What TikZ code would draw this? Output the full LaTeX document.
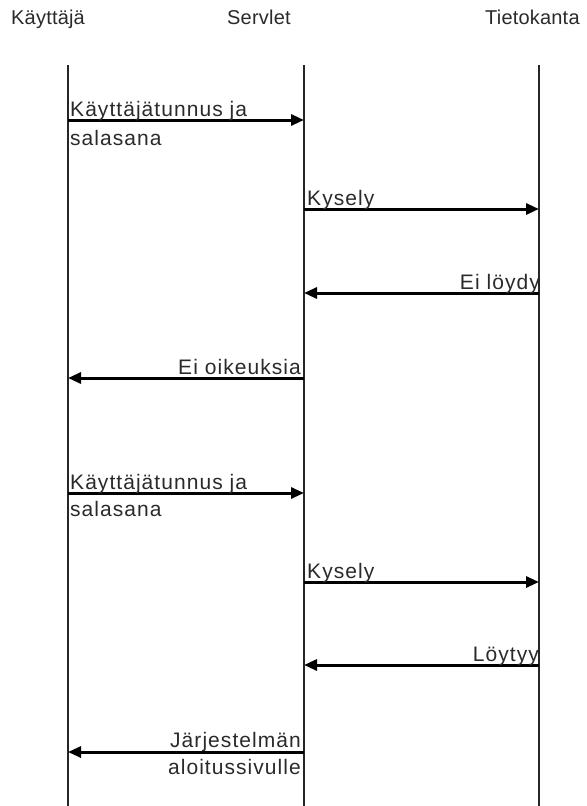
\documentclass[tikz,border=0pt]{standalone}
\usepackage{fontspec}
\setmainfont{Liberation Sans}
\newfontfamily\labelfont[LetterSpace=5]{Liberation Sans}
\newfontfamily\headfont[LetterSpace=1]{Liberation Sans}
\usetikzlibrary{arrows.meta}
\definecolor{ink}{HTML}{2A2A2A}

\tikzset{
  head/.style={anchor=base west, inner sep=0pt, text=ink,
    font=\headfont\fontsize{20bp}{24bp}\selectfont},
  lbl/.style={inner sep=0pt, text=ink,
    font=\labelfont\fontsize{21bp}{25bp}\selectfont},
  lblL/.style={lbl, anchor=base west},
  lblR/.style={lbl, anchor=base east},
  life/.style={draw=black!85, line width=1.2bp},
  msg/.style={draw=black, line width=3bp,
    -{Triangle[length=13bp,width=11bp]}},
}

\begin{document}
\begin{tikzpicture}[x=1bp, y=-1bp]
\useasboundingbox (0,0) rectangle (587,806);

% participants
\node[head] (user) at (11,25) {Käyttäjä};
\node[head] (servlet) at (227,25) {Servlet};
\node[head] (db) at (485,25) {Tietokanta};

% lifelines
\coordinate (uT) at (68,65);  \coordinate (uB) at (68,806);
\coordinate (sT) at (304,65); \coordinate (sB) at (304,806);
\coordinate (dT) at (539,65); \coordinate (dB) at (539,806);
\draw[life] (uT) -- (uB);
\draw[life] (sT) -- (sB);
\draw[life] (dT) -- (dB);

% first attempt: login refused
\coordinate (u1) at (68,120);  \coordinate (s1) at (304,120);
\draw[msg] (u1) -- (s1);
\node[lblL] (l1a) at (70,116) {Käyttäjätunnus ja};
\node[lblL] (l1b) at (70,145) {salasana};

\coordinate (s2) at (304,209); \coordinate (d2) at (539,209);
\draw[msg] (s2) -- (d2);
\node[lblL] (l2) at (307,205) {Kysely};

\coordinate (d3) at (539,293); \coordinate (s3) at (304,293);
\draw[msg] (d3) -- (s3);
\node[lblR] (l3) at (540,289) {Ei löydy};

\coordinate (s4) at (304,378); \coordinate (u4) at (68,378);
\draw[msg] (s4) -- (u4);
\node[lblR] (l4) at (301,374) {Ei oikeuksia};

% second attempt: login accepted
\coordinate (u5) at (68,493);  \coordinate (s5) at (304,493);
\draw[msg] (u5) -- (s5);
\node[lblL] (l5a) at (70,489) {Käyttäjätunnus ja};
\node[lblL] (l5b) at (70,516) {salasana};

\coordinate (s6) at (304,582); \coordinate (d6) at (539,582);
\draw[msg] (s6) -- (d6);
\node[lblL] (l6) at (307,578) {Kysely};

\coordinate (d7) at (539,665); \coordinate (s7) at (304,665);
\draw[msg] (d7) -- (s7);
\node[lblR] (l7) at (539,661) {Löytyy};

\coordinate (s8) at (304,752); \coordinate (u8) at (68,752);
\draw[msg] (s8) -- (u8);
\node[lblR] (l8a) at (301,747) {Järjestelmän};
\node[lblR] (l8b) at (301,774) {aloitussivulle};
\end{tikzpicture}
\end{document}
